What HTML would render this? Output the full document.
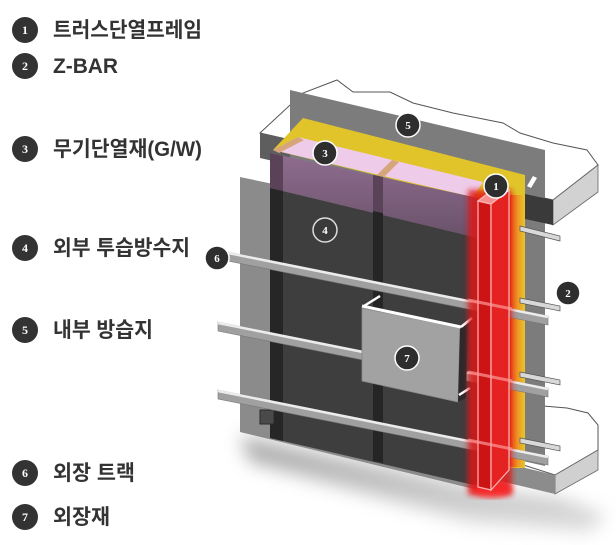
<!DOCTYPE html>
<html><head><meta charset="utf-8"><style>
html,body{margin:0;padding:0;background:#fff;}
svg{display:block}
.lg{font-family:"Liberation Sans","Noto Sans CJK KR",sans-serif;font-size:21px;font-weight:bold;fill:#333;}
.n{font-family:"Liberation Serif",serif;font-weight:bold;font-size:12px;fill:#fff;text-anchor:middle;}
.m{font-family:"Liberation Serif",serif;font-weight:bold;font-size:11px;fill:#fff;text-anchor:middle;}
</style></head><body>
<svg width="616" height="545" viewBox="0 0 616 545" xmlns="http://www.w3.org/2000/svg">
<defs>
<filter id="b8" x="-30%" y="-80%" width="160%" height="260%"><feGaussianBlur stdDeviation="9"/></filter>
<filter id="b3" x="-80%" y="-10%" width="260%" height="120%"><feGaussianBlur stdDeviation="3"/></filter>
<linearGradient id="pur" x1="0" y1="0" x2="0" y2="1"><stop offset="0" stop-color="#8f6d8f"/><stop offset="1" stop-color="#6a526a"/></linearGradient>
<linearGradient id="yr" x1="0" y1="0" x2="1" y2="0"><stop offset="0" stop-color="#e82a1a"/><stop offset="0.45" stop-color="#f08020"/><stop offset="1" stop-color="#e6c62a"/></linearGradient>
<linearGradient id="sh" x1="0" y1="0" x2="0" y2="1"><stop offset="0" stop-color="#8c8c8c"/><stop offset="1" stop-color="#d8d8d8"/></linearGradient>
</defs>

<!-- Legend -->
<g>
<circle cx="25" cy="30" r="13" fill="#333"/><text class="n" x="25" y="34">1</text>
<text class="lg" x="53" y="37" textLength="149" lengthAdjust="spacingAndGlyphs">트러스단열프레임</text>
<circle cx="25" cy="66" r="13" fill="#333"/><text class="n" x="25" y="70">2</text>
<text class="lg" x="53" y="73" textLength="65" lengthAdjust="spacingAndGlyphs">Z-BAR</text>
<circle cx="25" cy="149" r="13" fill="#333"/><text class="n" x="25" y="153">3</text>
<text class="lg" x="53" y="156" textLength="149" lengthAdjust="spacingAndGlyphs">무기단열재(G/W)</text>
<circle cx="25" cy="248" r="13" fill="#333"/><text class="n" x="25" y="252">4</text>
<text class="lg" x="53" y="255" textLength="137" lengthAdjust="spacingAndGlyphs">외부 투습방수지</text>
<circle cx="25" cy="330" r="13" fill="#333"/><text class="n" x="25" y="334">5</text>
<text class="lg" x="53" y="337" textLength="100" lengthAdjust="spacingAndGlyphs">내부 방습지</text>
<circle cx="25" cy="473" r="13" fill="#333"/><text class="n" x="25" y="477">6</text>
<text class="lg" x="53" y="480" textLength="82" lengthAdjust="spacingAndGlyphs">외장 트랙</text>
<circle cx="25" cy="517" r="13" fill="#333"/><text class="n" x="25" y="521">7</text>
<text class="lg" x="53" y="524" textLength="57" lengthAdjust="spacingAndGlyphs">외장재</text>
</g>

<!-- shadow -->
<polygon points="240,436 478,488 560,498 605,515 590,532 470,522 250,462" fill="url(#sh)" opacity="0.8" filter="url(#b8)"/>

<!-- top slab -->
<polygon points="260,133 303,93 337,80 353,92 390,92 413,103 453,113 503,123 520,133 553,143 587,150 598,165 553,200" fill="#fff" stroke="#555" stroke-width="1"/>
<polygon points="260,133 553,200 553,225 260,158" fill="#5e5e5e"/>
<polygon points="553,200 598,165 598,192 553,225" fill="#d2d2d2" stroke="#666" stroke-width="0.8"/>

<!-- bottom slab -->
<polygon points="517,463 520,410 543,406 567,408 588,413 598,425 598,450 555,475" fill="#fff" stroke="#555" stroke-width="1"/>
<polygon points="555,475 598,450 598,470 555,494" fill="#d0d0d0" stroke="#666" stroke-width="0.8"/>
<polygon points="500,462 555,475 555,494 500,481" fill="#8c8c8c"/>

<!-- inner vapor barrier panel 5 -->
<polygon points="290,90 545,150 545,466 290,408" fill="#7c7c7c"/>
<polygon points="525,194 553,200 553,225 525,219" fill="#3a3a3a"/>
<polygon points="527,186 533,176 537,178 531,188" fill="#fff"/>

<!-- yellow insulation -->
<polygon points="303,118 525,175 525,468 478,468 478,200 273,150" fill="#e0c42a"/>
<!-- pink top -->
<polygon points="273,150 298,137 483,182 473,197" fill="#eecbe9"/>
<polygon points="273,150 298,137 304,140 279,153" fill="#d6a57a"/>
<polygon points="377,175 392,160 399,162 384,177" fill="#d6a57a"/>

<!-- light gray front panel -->
<polygon points="240,177 478,227 478,490 240,432" fill="#8b8b8b"/>
<!-- purple face -->
<polygon points="270,153 478,198 478,238 270,188" fill="url(#pur)"/>
<!-- dark wall -->
<polygon points="270,188 478,238 478,486 270,438" fill="#3e3e3e"/>
<polygon points="270,188 283,191 283,441 270,438" fill="#262626"/>
<polygon points="270,153 283,156 283,191 270,188" fill="#5a4358"/>
<polygon points="373,211 383,213 383,463 373,461" fill="#252525"/>
<polygon points="373,175 383,177 383,213 373,211" fill="#5a4358"/>
<rect x="260" y="410" width="14" height="14" fill="#4a4a4a" stroke="#2a2a2a"/>

<!-- right yellow/red strip -->
<rect x="505" y="195" width="20" height="272" fill="url(#yr)"/>

<!-- Z-bars -->
<g fill="#d8d8d8" stroke="#555" stroke-width="0.7">
<polygon points="520,226 560,236 560,241 520,231"/>
<polygon points="520,298 560,306 560,311 520,303"/>
<polygon points="520,372 560,380 560,385 520,377"/>
<polygon points="520,438 560,446 560,451 520,443"/>
</g>

<!-- rails -->
<g>
<polygon points="228,252 548,316 548,325 228,261" fill="#a0a0a0" stroke="#777" stroke-width="0.6"/>
<line x1="228" y1="253" x2="548" y2="317" stroke="#ececec" stroke-width="2.5"/>
<polygon points="218,322 548,388 548,397 218,331" fill="#a0a0a0" stroke="#777" stroke-width="0.6"/>
<line x1="218" y1="323" x2="548" y2="389" stroke="#ececec" stroke-width="2.5"/>
<polygon points="218,390 548,456 548,465 218,399" fill="#a0a0a0" stroke="#777" stroke-width="0.6"/>
<line x1="218" y1="391" x2="548" y2="457" stroke="#ececec" stroke-width="2.5"/>
</g>

<!-- cladding panel 7 -->
<polygon points="362,308 460,328 458,402 362,381" fill="#a2a2a2" stroke="#888" stroke-width="0.8"/>
<polygon points="460,328 468,324 466,398 458,402" fill="#2b2b2b"/>
<line x1="362" y1="306" x2="461" y2="327" stroke="#fff" stroke-width="3"/>
<polyline points="364,306 380,296" fill="none" stroke="#fff" stroke-width="2.5"/>
<polyline points="461,327 472,318" fill="none" stroke="#fff" stroke-width="2.5"/>
<polyline points="459,395 470,388" fill="none" stroke="#fff" stroke-width="2.5"/>

<!-- red glow + column -->
<rect x="468" y="190" width="44" height="305" fill="#e01818" opacity="0.85" filter="url(#b3)"/>
<ellipse cx="492" cy="490" rx="20" ry="8" fill="#ff2020" opacity="0.7" filter="url(#b3)"/>
<polygon points="478,201 491,204 491,490 478,487" fill="#cc1414" stroke="#ffb4b4" stroke-width="1.2"/>
<polygon points="491,204 509,190 509,470 491,490" fill="#e42222" stroke="#ffb4b4" stroke-width="1.2"/>
<polygon points="478,201 496,187 509,190 491,204" fill="#f49090" stroke="#ffb4b4" stroke-width="1.2"/>
<line x1="468" y1="300" x2="512" y2="309" stroke="#ff9a9a" stroke-width="3" opacity="0.7"/>
<line x1="468" y1="372" x2="512" y2="381" stroke="#ff9a9a" stroke-width="3" opacity="0.7"/>
<line x1="468" y1="440" x2="512" y2="449" stroke="#ff9a9a" stroke-width="3" opacity="0.7"/>

<!-- diagram markers -->
<g stroke="#fff" stroke-width="1.5" fill="#2e2e2e">
<circle cx="408" cy="125" r="12"/>
<circle cx="325" cy="153" r="12"/>
<circle cx="496" cy="186" r="12"/>
<circle cx="568" cy="293" r="12"/>
<circle cx="217" cy="258" r="12"/>
<circle cx="407" cy="358" r="12"/>
</g>
<circle cx="325" cy="230" r="12" fill="#3a3a3a" stroke="#ddd" stroke-width="1.5"/>
<text class="m" x="408" y="129">5</text>
<text class="m" x="325" y="157">3</text>
<text class="m" x="496" y="190">1</text>
<text class="m" x="568" y="297">2</text>
<text class="m" x="217" y="262">6</text>
<text class="m" x="407" y="362">7</text>
<text class="m" x="325" y="234">4</text>
</svg>
</body></html>
